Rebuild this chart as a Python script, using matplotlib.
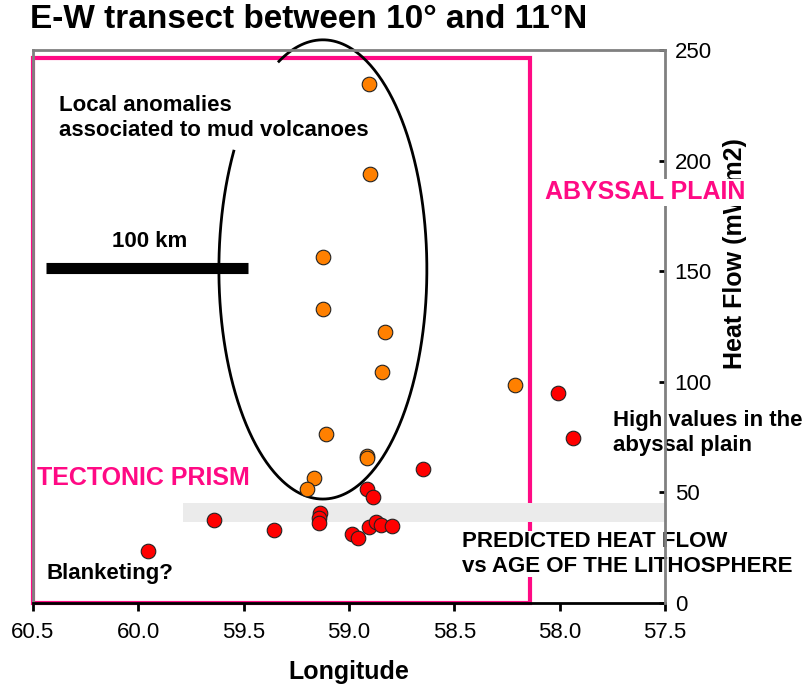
import numpy as np
import matplotlib
matplotlib.use("Agg")
import matplotlib.pyplot as plt
from matplotlib.patches import Rectangle

plt.rcParams['font.family'] = ['Liberation Sans', 'DejaVu Sans']

# mud volcano anomalies (orange)
orange_lon = [58.904, 58.90, 59.122, 59.125, 58.829, 58.843, 58.212, 59.111, 58.915, 58.915, 59.168, 59.201]
orange_hf = [234.5, 193.9, 156.3, 132.8, 122.4, 104.3, 98.6, 76.3, 66.5, 65.4, 56.6, 51.4]

# other measurements (red)
red_lon = [58.648, 57.939, 58.007, 58.913, 58.885, 59.138, 59.141, 59.144, 59.642,
           59.356, 58.987, 58.956, 58.905, 58.872, 58.848, 58.795, 59.953]
red_hf = [60.4, 74.8, 94.8, 51.4, 47.8, 40.8, 38.3, 36.3, 37.5,
          33.0, 31.2, 29.2, 34.5, 36.8, 35.3, 34.8, 23.5]

x_ticks = [60.5, 60.0, 59.5, 59.0, 58.5, 58.0, 57.5]
y_ticks = [0, 50, 100, 150, 200, 250]

# predicted heat flow band and tectonic prism box
band_lon = (59.79, 57.49)
band_hf = (36.6, 45.2)
prism_lon = (60.5, 58.14)
prism_top = 246.4

# ellipse around the mud volcano anomalies
ell_center = (59.124, 150.8)
ell_axes = (0.4936, 103.8)

fig = plt.figure(figsize=(8.09, 6.89), dpi=100)
ax = fig.add_axes([33 / 809, 1 - 603 / 689, 632 / 809, 553 / 689])

ax.set_xlim(60.5, 57.5)
ax.set_ylim(0, 250)

magenta = '#FF0A84'
ax.add_patch(Rectangle((prism_lon[1], 0), prism_lon[0] - prism_lon[1], prism_top,
                       fill=False, edgecolor=magenta, linewidth=3, zorder=1.5, clip_on=False))

ax.fill_between(band_lon, band_hf[0], band_hf[1], color='#EBEBEB', linewidth=0,
                zorder=1.8, clip_on=False)

# ellipse drawn as an arc with a gap on its upper-left side
t = np.radians(np.linspace(149, 475, 400))
ax.plot(ell_center[0] - ell_axes[0] * np.cos(t), ell_center[1] + ell_axes[1] * np.sin(t),
        color='black', linewidth=2, zorder=2, clip_on=False)

# 100 km scale bar
ax.plot([60.44, 59.478], [151.3, 151.3], color='black', linewidth=8,
        solid_capstyle='butt', zorder=2)

ax.scatter(orange_lon, orange_hf, s=110, color='#FF8000', edgecolor='#222222',
           linewidth=0.8, zorder=4)
ax.scatter(red_lon, red_hf, s=110, color='#FF0000', edgecolor='#222222',
           linewidth=0.8, zorder=4)

# axes styling
ax.yaxis.tick_right()
ax.set_xticks(x_ticks)
ax.set_xticklabels([f"{v:.1f}" for v in x_ticks])
ax.set_yticks(y_ticks)
ax.tick_params(axis='x', direction='out', length=6, width=2, color='black',
               labelsize=16, pad=8)
ax.tick_params(axis='y', direction='in', length=4, width=2, color='black',
               labelsize=16, pad=7)
for side in ['left', 'top', 'right']:
    ax.spines[side].set_color('#808080')
    ax.spines[side].set_linewidth(2)
ax.spines['bottom'].set_color('black')
ax.spines['bottom'].set_linewidth(2)
ax.spines['right'].set_zorder(3.5)

ax.set_xlabel('Longitude', fontsize=18, fontweight='bold', labelpad=12)
ax.text(1.111, 0.632, 'Heat Flow (mW/m2)', transform=ax.transAxes, rotation=90,
        ha='center', va='center', fontsize=18, fontweight='bold', clip_on=False)

fig.text(30 / 809, 1 - 20 / 689, 'E-W transect between 10° and 11°N',
         fontsize=24, fontweight='bold', ha='left', va='center')

bold = dict(fontweight='bold', transform=ax.transAxes, clip_on=False)
ax.text(0.0412, 0.877, 'Local anomalies\nassociated to mud volcanoes', fontsize=16,
        ha='left', va='center', linespacing=1.25, **bold)
ax.text(0.185, 0.653, '100 km', fontsize=16, ha='center', va='center', **bold)
ax.text(0.810, 0.743, 'ABYSSAL PLAIN', fontsize=18, color=magenta, ha='left',
        va='center', zorder=5, bbox=dict(facecolor='white', edgecolor='none', pad=1), **bold)
ax.text(0.0063, 0.226, 'TECTONIC PRISM', fontsize=18, color=magenta, ha='left',
        va='center', zorder=5, **bold)
ax.text(0.918, 0.307, 'High values in the\nabyssal plain', fontsize=16, ha='left',
        va='center', linespacing=1.25, **bold)
ax.text(0.679, 0.0886, 'PREDICTED HEAT FLOW\nvs AGE OF THE LITHOSPHERE', fontsize=16,
        ha='left', va='center', linespacing=1.2, zorder=3,
        bbox=dict(facecolor='white', edgecolor='none', pad=0), **bold)
ax.text(0.022, 0.054, 'Blanketing?', fontsize=16, ha='left', va='center', **bold)

fig.savefig('out.png', dpi=100)
